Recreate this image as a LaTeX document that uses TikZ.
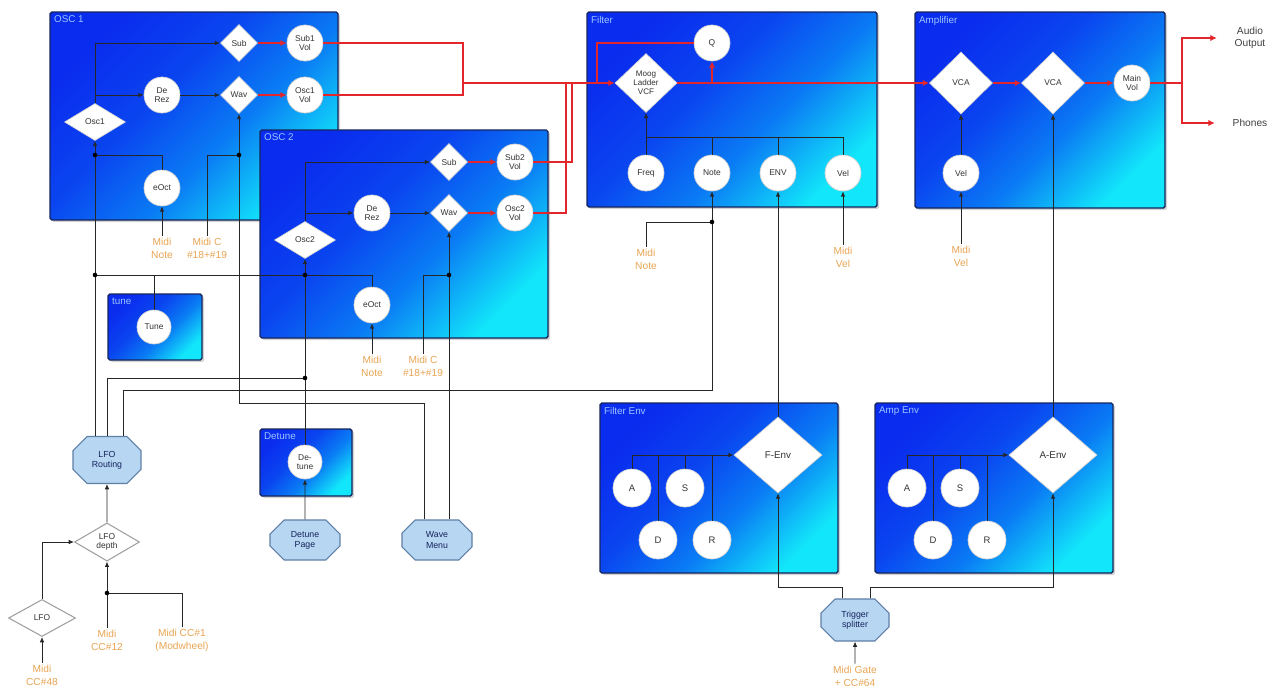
\documentclass[tikz,border=0pt]{standalone}
\usepackage{fontspec}
\setmainfont{Liberation Sans}
\usetikzlibrary{calc,positioning,shapes.geometric,shapes.misc,arrows.meta,shadows}

\definecolor{blkdark}{HTML}{0A2CEE}
\definecolor{blkmid}{HTML}{0A7CF4}
\definecolor{blklight}{HTML}{12E6FA}
\definecolor{blkedge}{HTML}{16245C}
\definecolor{midiorange}{HTML}{E8A452}
\definecolor{menufill}{HTML}{B6D6F2}
\definecolor{menuedge}{HTML}{5E7FA6}
\definecolor{audiored}{HTML}{E2262C}
\definecolor{titleblue}{HTML}{9CC6FF}

\pgfdeclarehorizontalshading{blockshade}{100bp}{color(0bp)=(blkdark); color(25bp)=(blkdark); color(42bp)=(blkdark!70!blkmid); color(58bp)=(blkmid); color(75bp)=(blklight); color(100bp)=(blklight)}

\tikzset{
  block/.style={shade, shading=blockshade, shading angle=-45, draw=blkedge,
    line width=0.8pt, rounded corners=1pt,
    drop shadow={shadow xshift=1.2pt, shadow yshift=-1.2pt, opacity=0.35}},
  blocktitle/.style={anchor=north west, text=titleblue, inner sep=1pt,
    font=\fontsize{5.6}{6.4}\selectfont},
  ctrl/.style={circle, fill=white, draw=gray!35, line width=0.4pt,
    minimum size=0.72cm, inner sep=0pt, align=center, text=black!80,
    font=\fontsize{4.8}{5.4}\selectfont},
  gate/.style={diamond, fill=white, draw=gray!35, line width=0.4pt,
    minimum width=0.74cm, minimum height=0.74cm, inner sep=0pt, align=center,
    text=black!80, font=\fontsize{4.8}{5.4}\selectfont},
  oscgate/.style={gate, minimum width=1.22cm},
  vcfgate/.style={gate, minimum width=1.24cm, minimum height=1.18cm},
  vcagate/.style={gate, minimum width=1.26cm, minimum height=1.24cm},
  envgate/.style={gate, minimum width=1.76cm, minimum height=1.52cm,
    font=\fontsize{5.6}{6.4}\selectfont},
  lfogate/.style={gate, draw=gray!75, line width=0.6pt, minimum width=1.34cm},
  adsr/.style={ctrl, minimum size=0.76cm, font=\fontsize{5.4}{6}\selectfont},
  menu/.style={chamfered rectangle, chamfered rectangle xsep=0.2cm,
    chamfered rectangle ysep=0.1cm, fill=menufill, draw=menuedge,
    line width=0.6pt, minimum width=1.36cm, minimum height=0.88cm,
    inner sep=0pt, align=center, text=blkedge,
    font=\fontsize{5}{5.8}\selectfont},
  midi/.style={text=midiorange, align=center, inner sep=1pt,
    font=\fontsize{5.8}{7.4}\selectfont},
  outlabel/.style={align=center, text=black!75, inner sep=1pt,
    font=\fontsize{5.8}{7}\selectfont},
  link/.style={draw=black!85, line width=0.5pt},
  wire/.style={link, -{Latex[length=3pt,width=2.6pt]}},
  audiolink/.style={draw=audiored, line width=1pt},
  audio/.style={audiolink, -{Latex[length=3.6pt,width=3.6pt]}}
}

\begin{document}
\begin{tikzpicture}[x=0.02cm, y=-0.02cm]

  \useasboundingbox (0,0) rectangle (1273,690);

  % Blocks (OSC 2 lies over OSC 1)
  \path[block] (50,12) rectangle (338,220);
  \node[blocktitle] (osc1title) at (52,14) {OSC 1};
  \path[block] (260,130) rectangle (548,338);
  \node[blocktitle] (osc2title) at (262,132) {OSC 2};
  \path[block] (587,12) rectangle (877,207);
  \node[blocktitle] (filtertitle) at (589,14) {Filter};
  \path[block] (915,12) rectangle (1165,208);
  \node[blocktitle] (amptitle) at (917,14) {Amplifier};
  \path[block] (108,294) rectangle (202,360);
  \node[blocktitle] (tunetitle) at (110,296) {tune};
  \path[block] (260,429) rectangle (352,496);
  \node[blocktitle] (detunetitle) at (262,431) {Detune};
  \path[block] (600,403) rectangle (838,573);
  \node[blocktitle] (fenvtitle) at (602,405) {Filter Env};
  \path[block] (875,403) rectangle (1113,573);
  \node[blocktitle] (aenvtitle) at (877,405) {Amp Env};

  % OSC 1
  \node[gate] (sub1) at (239,43) {Sub};
  \node[ctrl] (sub1vol) at (305,43) {Sub1\\Vol};
  \node[ctrl] (derez1) at (162,95) {De\\Rez};
  \node[gate] (wav1) at (239,95) {Wav};
  \node[ctrl] (osc1vol) at (305,95) {Osc1\\Vol};
  \node[oscgate] (osc1) at (95,122) {Osc1};
  \node[ctrl] (oct1) at (162,188) {eOct};
  \node[midi] (note1) at (162,248) {Midi\\Note};
  \node[midi] (cc1) at (207,248) {Midi C\\\#18+\#19};

  % OSC 2
  \node[gate] (sub2) at (449,162) {Sub};
  \node[ctrl] (sub2vol) at (515,162) {Sub2\\Vol};
  \node[ctrl] (derez2) at (372,213) {De\\Rez};
  \node[gate] (wav2) at (449,213) {Wav};
  \node[ctrl] (osc2vol) at (515,213) {Osc2\\Vol};
  \node[oscgate] (osc2) at (305,240) {Osc2};
  \node[ctrl] (oct2) at (372,305) {eOct};
  \node[midi] (note2) at (372,366) {Midi\\Note};
  \node[midi] (cc2) at (423,366) {Midi C\\\#18+\#19};

  % Tune and detune
  \node[ctrl, minimum size=0.68cm] (tune) at (154,327) {Tune};
  \node[ctrl, minimum size=0.68cm] (detune) at (305,462) {De-\\tune};
  \node[menu, minimum width=1.4cm, minimum height=0.8cm] (detpage) at (305,540) {Detune\\Page};
  \node[menu, minimum width=1.4cm, minimum height=0.8cm] (wavemenu) at (437,540) {Wave\\Menu};

  % LFO
  \node[menu, minimum height=0.94cm] (lforout) at (107,460) {LFO\\Routing};
  \node[lfogate, minimum width=1.3cm] (lfodepth) at (107,542) {LFO\\depth};
  \node[lfogate] (lfo) at (42,618) {LFO};
  \node[midi] (cc48) at (42,675) {Midi\\CC\#48};
  \node[midi] (cc12) at (107,640) {Midi\\CC\#12};
  \node[midi] (cc1m) at (182,640) {Midi CC\#1\\(Modwheel)};

  % Filter
  \node[vcfgate, font=\fontsize{4.6}{5.2}\selectfont] (vcf) at (646,83) {Moog\\Ladder\\VCF};
  \node[ctrl] (q) at (712,43) {Q};
  \node[ctrl] (freq) at (646,173) {Freq};
  \node[ctrl] (fnote) at (712,173) {Note};
  \node[ctrl] (fenvamt) at (778,173) {ENV};
  \node[ctrl] (fvel) at (843,173) {Vel};
  \node[midi] (fmidinote) at (646,259) {Midi\\Note};
  \node[midi] (fmidivel) at (843,257) {Midi\\Vel};

  % Amplifier
  \node[vcagate] (vca1) at (961,83) {VCA};
  \node[vcagate] (vca2) at (1053,83) {VCA};
  \node[ctrl] (mainvol) at (1132,83) {Main\\Vol};
  \node[ctrl] (avel) at (961,173) {Vel};
  \node[midi] (amidivel) at (961,256) {Midi\\Vel};
  \node[outlabel] (audioout) at (1250,38) {Audio\\Output};
  \node[outlabel] (phones) at (1250,123) {Phones};

  % Filter Env
  \node[envgate] (fenvdia) at (778,455) {F-Env};
  \node[adsr] (fa) at (632,488) {A};
  \node[adsr] (fs) at (685,488) {S};
  \node[adsr] (fd) at (658,540) {D};
  \node[adsr] (fr) at (712,540) {R};

  % Amp Env
  \node[envgate] (aenvdia) at (1053,455) {A-Env};
  \node[adsr] (aa) at (907,488) {A};
  \node[adsr] (as) at (960,488) {S};
  \node[adsr] (ad) at (933,540) {D};
  \node[adsr] (ar) at (987,540) {R};

  % Trigger
  \node[menu, minimum height=0.84cm] (trig) at (855,620) {Trigger\\splitter};
  \node[midi] (gatein) at (855,676) {Midi Gate\\+ CC\#64};

  % Junctions and bends
  \coordinate (j1oct) at (95,155);
  \coordinate (j1tune) at (95,275);
  \coordinate (j1wav) at (239,155);
  \coordinate (j2oct) at (305,275);
  \coordinate (j2det) at (305,378);
  \coordinate (j2wav) at (449,275);
  \coordinate (jfnote) at (712,222);
  \coordinate (jlfo) at (107,593);
  \coordinate (mix1) at (463,83);
  \coordinate (mix2) at (572,83);
  \coordinate (mix3) at (566,83);
  \coordinate (qret) at (597,83);
  \coordinate (fbus) at (646,137);
  \coordinate (outsplit) at (1182,83);
  \coordinate (wavebus) at (239,403);
  \coordinate (lfobus) at (712,390);
  \coordinate (trigbus) at (0,587);

  % OSC 1 wiring
  \draw[wire] (osc1.north) |- (sub1.west);
  \draw[wire] (osc1.north |- derez1.west) -- (derez1.west);
  \draw[wire] (derez1) -- (wav1);
  \draw[audio] (sub1) -- (sub1vol);
  \draw[audio] (wav1) -- (osc1vol);
  \draw[link] (oct1.north) |- (j1oct);
  \draw[wire] (note1) -- (oct1);
  \draw[link] (cc1.north) |- (j1wav);

  % OSC 2 wiring
  \draw[wire] (osc2.north) |- (sub2.west);
  \draw[wire] (osc2.north |- derez2.west) -- (derez2.west);
  \draw[wire] (derez2) -- (wav2);
  \draw[audio] (sub2) -- (sub2vol);
  \draw[audio] (wav2) -- (osc2vol);
  \draw[link] (oct2.north) |- (j2oct);
  \draw[wire] (note2) -- (oct2);
  \draw[link] (cc2.north) |- (j2wav);

  % Tune, detune, wave menu
  \draw[link] (tune.north) |- (j1tune);
  \draw[link] (tune.north) |- (j2oct);
  \draw[wire] (detune) -- (osc2);
  \draw[wire] (detpage) -- (detune);
  \draw[wire] (wavemenu.north -| wav2.south) -- (wav2.south);
  \draw[wire] ($(wavemenu.north)+(-13,0)$) |- (wavebus) -- (wav1.south);

  % LFO wiring
  \draw[wire] (lfo.north) |- (lfodepth.west);
  \draw[wire] (lfodepth) -- (lforout);
  \draw[wire] (cc12) -- (lfodepth);
  \draw[link] (cc1m.north) |- (jlfo);
  \draw[wire] (cc48) -- (lfo);
  \draw[wire] (lforout.north -| osc1.south) -- (osc1.south);
  \draw[link] (lforout.north) |- (j2det);
  \draw[wire] ($(lforout.north)+(16,0)$) |- (lfobus) -- (fnote.south);

  % Audio path
  \draw[audiolink] (sub1vol.east) -| (mix1);
  \draw[audiolink] (osc1vol.east) -| (mix1);
  \draw[audiolink] (sub2vol.east) -| (mix2);
  \draw[audiolink] (osc2vol.east) -| (mix3);
  \draw[audio] (mix1) -- (vcf.west);
  \draw[audio] (vcf.east -| q.south) -- (q.south);
  \draw[audiolink] (q.west) -| (qret);
  \draw[audio] (vcf.east) -- (vca1.west);
  \draw[audio] (vca1) -- (vca2);
  \draw[audio] (vca2) -- (mainvol);
  \draw[audiolink] (mainvol.east) -- (outsplit);
  \draw[audio, shorten >=9pt] (outsplit) |- (audioout.west);
  \draw[audio, shorten >=9pt] (outsplit) |- (phones.west);

  % Filter controls
  \draw[wire] (freq) -- (vcf);
  \draw[link] (fvel.north) |- (fbus);
  \draw[link] (fnote.north) -- (fnote.north |- fbus);
  \draw[link] (fenvamt.north) -- (fenvamt.north |- fbus);
  \draw[wire] (fmidivel) -- (fvel);
  \draw[link] (fmidinote.north) |- (jfnote);
  \draw[wire] (fenvdia.north) -- (fenvamt.south);

  % Amplifier controls
  \draw[wire] (avel) -- (vca1);
  \draw[wire] (amidivel) -- (avel);
  \draw[wire] (aenvdia.north) -- (vca2.south);

  % Envelopes
  \draw[wire] (fa.north) |- (fenvdia.west);
  \draw[link] (fd.north) -- (fd.north |- fenvdia.west);
  \draw[link] (fs.north) -- (fs.north |- fenvdia.west);
  \draw[link] (fr.north) -- (fr.north |- fenvdia.west);
  \draw[wire] (aa.north) |- (aenvdia.west);
  \draw[link] (ad.north) -- (ad.north |- aenvdia.west);
  \draw[link] (as.north) -- (as.north |- aenvdia.west);
  \draw[link] (ar.north) -- (ar.north |- aenvdia.west);

  % Trigger
  \draw[wire] (gatein) -- (trig);
  \draw[wire] ($(trig.north)+(-13,0)$) |- (fenvdia.south |- trigbus) -- (fenvdia.south);
  \draw[wire] ($(trig.north)+(15,0)$) |- (aenvdia.south |- trigbus) -- (aenvdia.south);

  % Junction dots
  \fill (j1oct) circle (1.3pt);
  \fill (j1tune) circle (1.3pt);
  \fill (j1wav) circle (1.3pt);
  \fill (j2oct) circle (1.3pt);
  \fill (j2det) circle (1.3pt);
  \fill (j2wav) circle (1.3pt);
  \fill (jfnote) circle (1.3pt);
  \fill (jlfo) circle (1.3pt);

\end{tikzpicture}
\end{document}
